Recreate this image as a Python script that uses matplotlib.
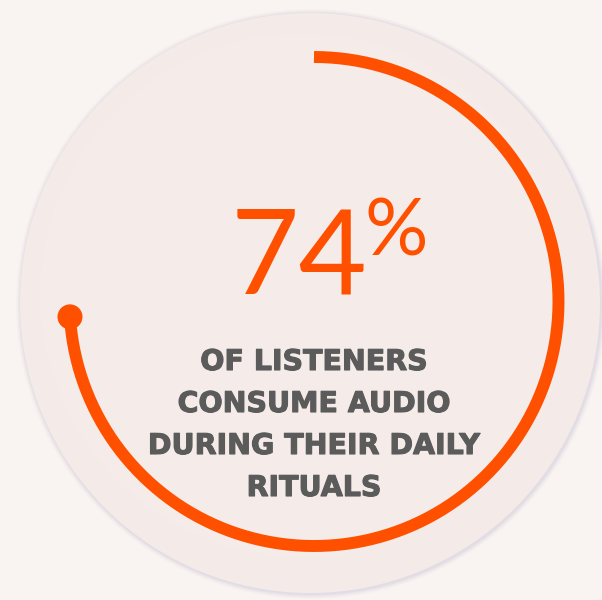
import matplotlib.pyplot as plt
import numpy as np
from matplotlib.patches import Circle
import matplotlib.patheffects as pe

# stat shown on the card
value = 74
caption = ['OF LISTENERS', 'CONSUME AUDIO', 'DURING THEIR DAILY', 'RITUALS']

bg = '#f9f4f1'
card = '#f4eae7'
orange = '#ff5000'
grey = '#5b5b5b'

fig = plt.figure(figsize=(6.02, 6.0), dpi=100, facecolor=bg)
ax = fig.add_axes([0, 0, 1, 1])
ax.set_xlim(0, 602)
ax.set_ylim(600, 0)
ax.set_aspect('equal')
ax.axis('off')

# card with soft shadow
cx, cy, R = 310, 303, 290
for i, a in enumerate([0.04, 0.06, 0.08, 0.10, 0.12]):
    ax.add_patch(Circle((cx + 1, cy + 1), R + 5 - i, color='#bdb6d2', alpha=a, lw=0))
ax.add_patch(Circle((cx, cy), R, color=card, lw=0))
ax.add_patch(Circle((cx - 8, cy - 8), 262, color='#f6eeeb', alpha=0.5, lw=0))

# progress ring, clockwise from the top
ax_, ay, r = 314, 301.5, 244.5
t = np.linspace(0, value / 100 * 2 * np.pi, 400)
x = ax_ + r * np.sin(t)
y = ay - r * np.cos(t)
ax.plot(x, y, color=orange, lw=8.6, solid_capstyle='butt')
ax.add_patch(Circle((x[-1], y[-1]), 12.5, color=orange, lw=0))

# big number
ax.text(299, 294, str(value), color=orange, fontsize=85, family='Lato',
        ha='center', va='baseline')
ax.text(365, 255, '%', color=orange, fontsize=57, family='Lato',
        ha='left', va='baseline')

for i, line in enumerate(caption):
    ax.text(314, 370 + 42 * i, line, color=grey, fontsize=20.5,
            family='DejaVu Sans', weight='bold', ha='center', va='baseline',
            path_effects=[pe.withStroke(linewidth=0.8, foreground=grey)])

fig.savefig('out.png', dpi=100, facecolor=bg)
